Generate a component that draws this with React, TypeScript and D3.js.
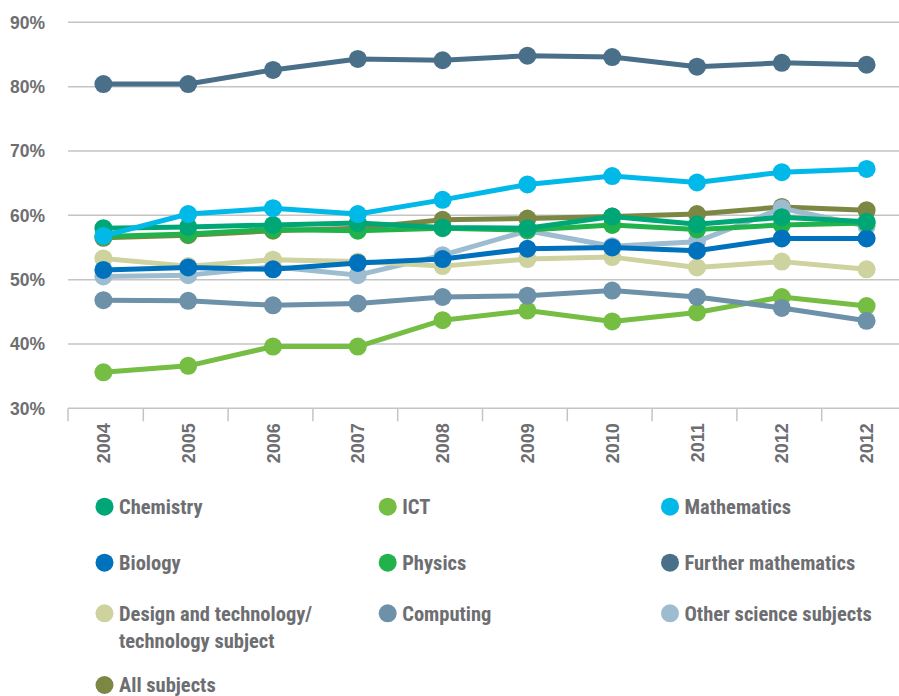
import React, { useEffect, useRef } from "react";
import * as d3 from "d3";

// x categories (the source repeats 2012 for the last column)
const years = ["2004", "2005", "2006", "2007", "2008", "2009", "2010", "2011", "2012", "2012"];
const yTicks = [30, 40, 50, 60, 70, 80, 90];

const chemistry = [58.0, 58.2, 58.5, 58.8, 58.1, 58.0, 59.8, 58.6, 59.7, 59.0];
const ict = [35.6, 36.6, 39.6, 39.6, 43.7, 45.2, 43.5, 44.9, 47.3, 45.9];
const mathematics = [56.8, 60.2, 61.1, 60.2, 62.4, 64.8, 66.1, 65.1, 66.7, 67.2];
const biology = [51.5, 51.9, 51.6, 52.6, 53.2, 54.8, 55.0, 54.5, 56.4, 56.4];
const physics = [56.7, 57.1, 57.8, 57.6, 58.0, 57.7, 58.5, 57.8, 58.5, 58.8];
const furtherMaths = [80.4, 80.4, 82.6, 84.3, 84.1, 84.8, 84.6, 83.1, 83.7, 83.4];
const designTech = [53.3, 52.1, 53.1, 52.8, 52.1, 53.2, 53.5, 51.9, 52.8, 51.6];
const computing = [46.8, 46.7, 46.0, 46.3, 47.3, 47.5, 48.3, 47.3, 45.6, 43.6];
const otherScience = [50.5, 50.7, 52.0, 50.7, 53.8, 57.6, 55.2, 55.9, 61.1, 58.3];
const allSubjects = [56.5, 56.9, 57.6, 58.0, 59.3, 59.5, 59.8, 60.2, 61.3, 60.8];

interface Series {
  name: string[];
  color: string;
  values: number[];
}

// legend order (3 columns, row by row)
const series: Series[] = [
  { name: ["Chemistry"], color: "#00A776", values: chemistry },
  { name: ["ICT"], color: "#76BD43", values: ict },
  { name: ["Mathematics"], color: "#00B9E8", values: mathematics },
  { name: ["Biology"], color: "#0071BC", values: biology },
  { name: ["Physics"], color: "#21B24B", values: physics },
  { name: ["Further mathematics"], color: "#4A6F89", values: furtherMaths },
  { name: ["Design and technology/", "technology subject"], color: "#CDD29F", values: designTech },
  { name: ["Computing"], color: "#6C91A8", values: computing },
  { name: ["Other science subjects"], color: "#9DBCCF", values: otherScience },
  { name: ["All subjects"], color: "#7B8743", values: allSubjects },
];

// painting order, bottom to top
const drawOrder = [
  "All subjects",
  "Other science subjects",
  "Design and technology/",
  "ICT",
  "Computing",
  "Physics",
  "Biology",
  "Chemistry",
  "Mathematics",
  "Further mathematics",
];

const WIDTH = 899;
const HEIGHT = 696;
const TEXT = "#6D6E71";
const GRID = "#C4C4C4";

export default function App() {
  const svgRef = useRef<SVGSVGElement>(null);

  useEffect(() => {
    if (!svgRef.current) return;
    const svg = d3.select(svgRef.current);
    svg.selectAll("*").remove();

    const x = d3
      .scaleBand<number>()
      .domain(years.map((_, i) => i))
      .range([61, 909]);
    const cx = (i: number) => (x(i) as number) + x.bandwidth() / 2;

    const y = d3.scaleLinear().domain([30, 90]).range([408.3, 22.3]);

    const axisLeft = 68;

    // gridlines
    svg.append("g")
      .selectAll("line")
      .data(yTicks.filter(t => t > 30))
      .join("line")
      .attr("x1", axisLeft)
      .attr("x2", WIDTH)
      .attr("y1", d => y(d))
      .attr("y2", d => y(d))
      .attr("stroke", GRID)
      .attr("stroke-width", 1.5);

    // y labels
    svg.append("g")
      .selectAll("text")
      .data(yTicks)
      .join("text")
      .attr("x", 45)
      .attr("y", d => y(d))
      .attr("dy", "0.36em")
      .attr("text-anchor", "end")
      .attr("fill", TEXT)
      .attr("font-family", "'Liberation Sans', Arial, sans-serif")
      .attr("font-weight", "bold")
      .attr("font-size", 17.5)
      .text(d => `${d}%`);

    // x axis line and ticks
    const y0 = y(30);
    svg.append("line")
      .attr("x1", axisLeft)
      .attr("x2", WIDTH)
      .attr("y1", y0)
      .attr("y2", y0)
      .attr("stroke", GRID)
      .attr("stroke-width", 1.5);

    const tickXs = [axisLeft, ...years.slice(1).map((_, i) => (x(i + 1) as number) - 2.5)];
    svg.append("g")
      .selectAll("line")
      .data(tickXs)
      .join("line")
      .attr("x1", d => d)
      .attr("x2", d => d)
      .attr("y1", y0)
      .attr("y2", y0 + 13)
      .attr("stroke", GRID)
      .attr("stroke-width", 1.5);

    svg.append("g")
      .selectAll("text")
      .data(years)
      .join("text")
      .attr("transform", (_, i) => `translate(${cx(i) + 6.5},${y0 + 15}) rotate(-90)`)
      .attr("text-anchor", "end")
      .attr("fill", TEXT)
      .attr("font-family", "'Liberation Sans', Arial, sans-serif")
      .attr("font-weight", "bold")
      .attr("font-size", 18)
      .text(d => d);

    // lines and markers
    const line = d3
      .line<number>()
      .x((_, i) => cx(i))
      .y(d => y(d));

    const ordered = drawOrder.map(n => series.find(s => s.name[0] === n) as Series);
    ordered.forEach(s => {
      const g = svg.append("g");
      g.append("path")
        .datum(s.values)
        .attr("fill", "none")
        .attr("stroke", s.color)
        .attr("stroke-width", 5)
        .attr("stroke-linejoin", "round")
        .attr("d", line);
      g.selectAll("circle")
        .data(s.values)
        .join("circle")
        .attr("cx", (_, i) => cx(i))
        .attr("cy", d => y(d))
        .attr("r", 9)
        .attr("fill", s.color);
    });

    // legend
    const colX = [104.5, 387.7, 670];
    const rowY = [506.7, 562.7, 613.3, 685];
    const legend = svg.append("g");
    series.forEach((s, i) => {
      const col = i % 3;
      const row = Math.floor(i / 3);
      const item = legend.append("g")
        .attr("transform", `translate(${colX[col]},${rowY[row]})`);
      item.append("circle").attr("r", 9).attr("fill", s.color);
      const text = item.append("text")
        .attr("fill", TEXT)
        .attr("font-family", "'Liberation Sans Narrow', 'Arial Narrow', 'Roboto Condensed', sans-serif")
        .attr("font-weight", "bold")
        .attr("font-size", 20.5);
      s.name.forEach((part, k) => {
        text.append("tspan")
          .attr("x", 14.5)
          .attr("y", k * 27.5)
          .attr("dy", "0.36em")
          .text(part);
      });
    });
  }, []);

  return (
    <svg
      ref={svgRef}
      width={WIDTH}
      height={HEIGHT}
      style={{ position: "absolute", left: 0, top: 0, background: "#fff" }}
    />
  );
}
